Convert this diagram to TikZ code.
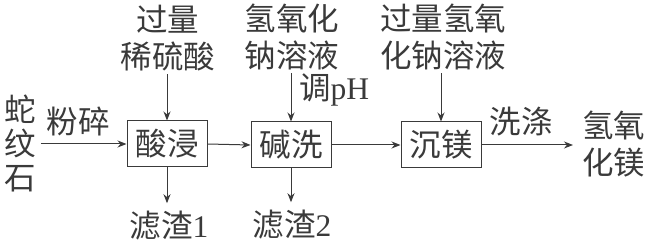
\documentclass[tikz,border=0pt]{standalone}
\usepackage{fontspec}
\setmainfont{Liberation Serif}
\newfontfamily\cjk{Noto Sans CJK SC}
\usetikzlibrary{arrows.meta}
\definecolor{ink}{HTML}{3A3A3A}
\begin{document}
\begin{tikzpicture}[x=1pt,y=-1pt,
  proc/.style={draw=ink, line width=1pt, minimum width=80pt, minimum height=46pt, inner sep=0pt, font=\cjk\fontsize{31.5}{36}\selectfont, text=ink},
  lbl/.style={inner sep=0pt, align=center, text=ink, font=\cjk\fontsize{31.5}{37}\selectfont},
  flow/.style={draw=ink, line width=1pt, -{Stealth[length=9pt,width=7pt]}}]
\fill[white] (0,0) rectangle (649,245);
\useasboundingbox (0,0) rectangle (649,245);
\node[proc] (b1) at (167,144) {酸浸};
\node[proc] (b2) at (291,145) {碱洗};
\node[proc] (b3) at (441,145) {沉镁};
\node[lbl, font=\cjk\fontsize{31.5}{34}\selectfont] (src) at (20,143) {蛇\\纹\\石};
\node[lbl] (t1) at (168,38) {过量\\稀硫酸};
\node[lbl] (t2) at (292,37) {氢氧化\\钠溶液};
\node[lbl] (t3) at (443,37) {过量氢氧\\化钠溶液};
\node[lbl] (r1) at (169,226) {滤渣{\rmfamily 1}};
\node[lbl] (r2) at (292,225) {滤渣{\rmfamily 2}};
\node[lbl, anchor=west] (ph) at (299,90) {调{\rmfamily pH}};
\node[lbl] (fs) at (78,122) {粉碎};
\node[lbl] (xd) at (521,122) {洗涤};
\node[lbl, anchor=west] (prod) at (582,144) {氢氧\\化镁};
\draw[flow, shorten <=5pt] (src.east |- b1) -- (b1.west);
\draw[flow] (b1.east) -- (b2.west);
\draw[flow] (b2.east) -- (b3.west);
\draw[flow, shorten >=9pt] (b3.east) -- (b3.east -| prod.west);
\draw[flow, shorten <=3pt] (b1.north |- t1.south) -- (b1.north);
\draw[flow, shorten <=3pt] (b2.north |- t2.south) -- (b2.north);
\draw[flow, shorten <=3pt] (b3.north |- t3.south) -- (b3.north);
\draw[flow, shorten >=8pt] (b1.south) -- (b1.south |- r1.north);
\draw[flow, shorten >=8pt] (b2.south) -- (b2.south |- r2.north);
\end{tikzpicture}
\end{document}
